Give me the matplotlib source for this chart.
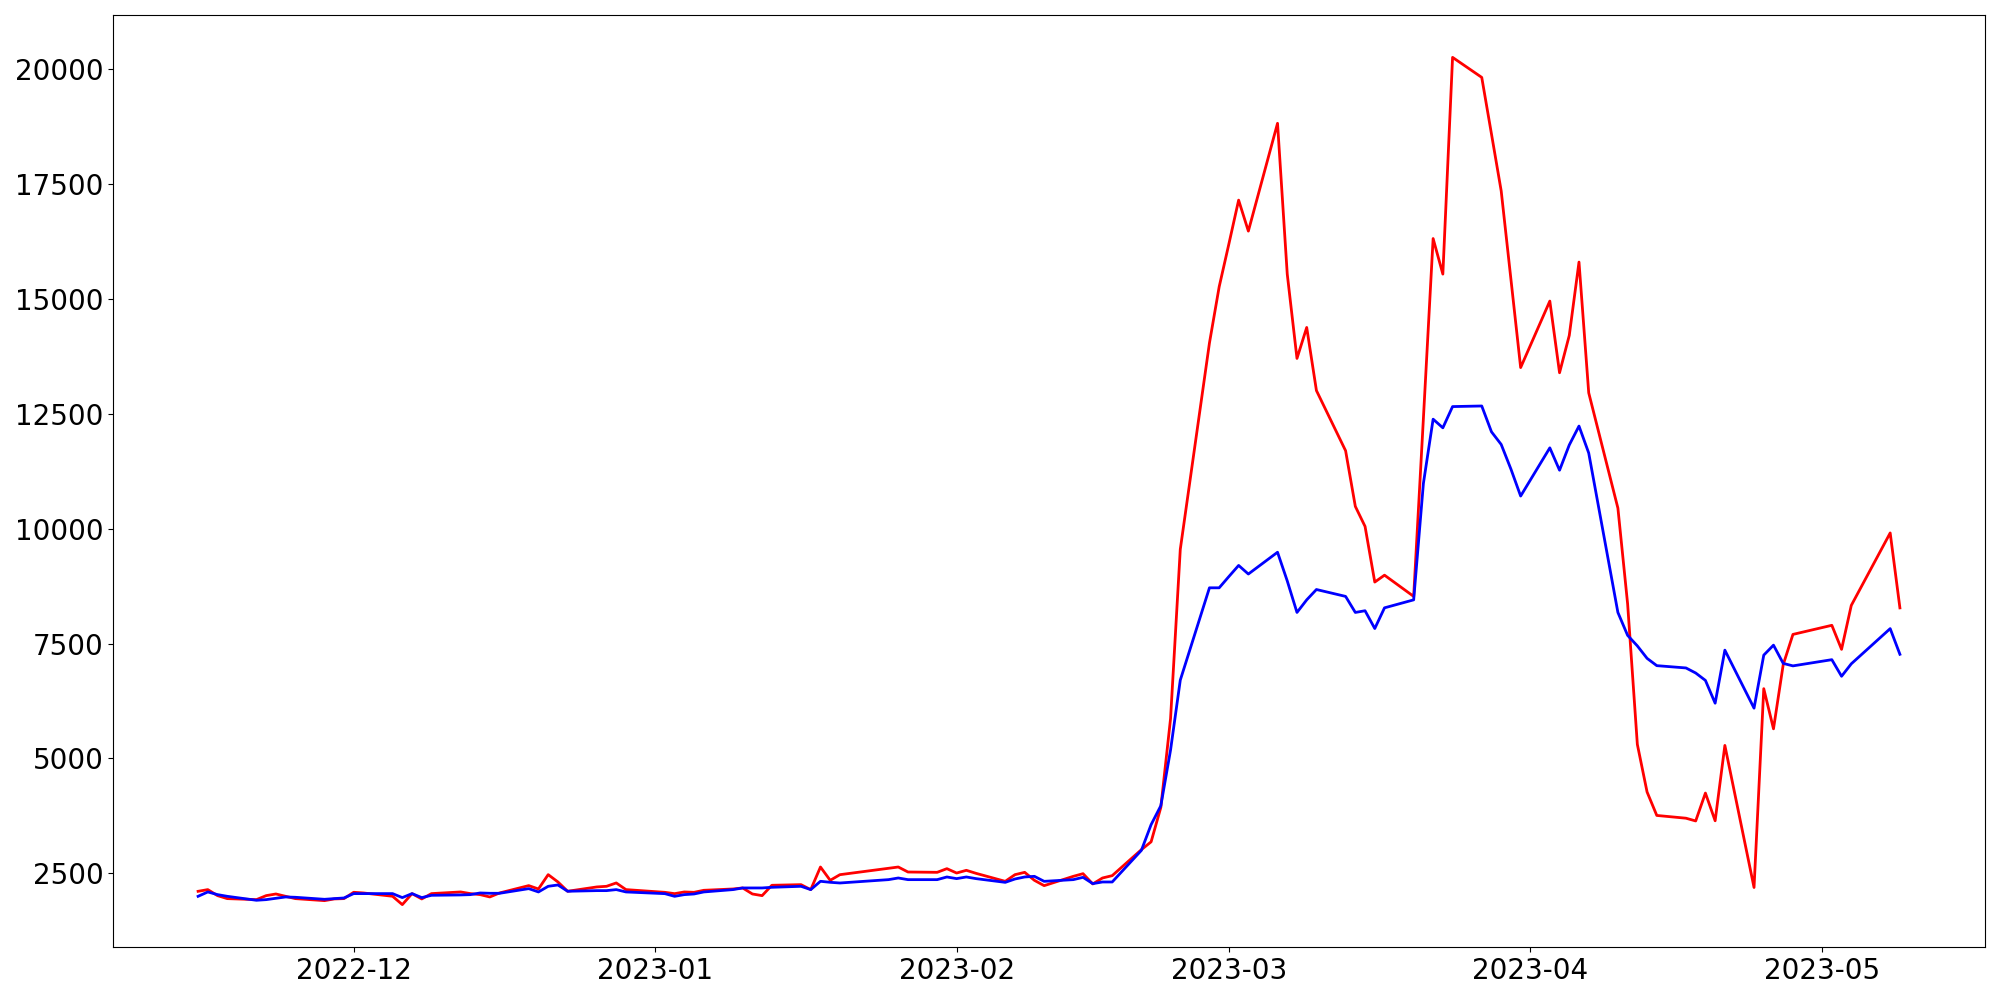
import matplotlib
matplotlib.use("Agg")
import matplotlib.pyplot as plt
import matplotlib.dates as mdates
import pandas as pd

# Trading days (weekdays, with a few closed days removed)
start_date = "2022-11-15"
end_date = "2023-05-09"
closed_days = ["2022-12-30", "2023-01-23", "2023-01-24", "2023-05-01", "2023-05-05"]

red_values = [
    # Nov
    2109, 2146, 2015, 1950, 1928, 2015, 2051, 2000, 1950, 1906, 1943, 1950,
    # Dec
    2088, 2073, 2001, 1819, 2059, 1943, 2059, 2095, 2059, 2037, 1986, 2073,
    2233, 2160, 2472, 2313, 2110, 2204, 2218, 2291, 2146,
    # Jan
    2087, 2058, 2095, 2087, 2131, 2160, 2182, 2051, 2015, 2240, 2254, 2146,
    2638, 2348, 2471, 2610, 2638, 2529, 2522, 2602,
    # Feb
    2507, 2566, 2500, 2326, 2471, 2522, 2348, 2232, 2435, 2493, 2269, 2399,
    2450, 3015, 3186, 3935, 5869, 9551, 14043, 15266,
    # Mar
    16200, 17151, 16477, 18823, 15541, 13706, 14380, 13007, 11697, 10486,
    10050, 8839, 8989, 8527, 12400, 16315, 15541, 20258, 19822, 18590,
    17351, 15430, 13507,
    # Apr
    14954, 13394, 14206, 15803, 12958, 10449, 8365, 5307, 4271, 3760,
    3700, 3640, 4247, 3644, 5284, 2192, 6519, 5645, 7042, 7700,
    # May
    7898, 7375, 8331, 9908, 8277,
]

blue_values = [
    # Nov
    2000, 2095, 2037, 2000, 1914, 1928, 1957, 1986, 1979, 1935, 1950, 1964,
    # Dec
    2059, 2059, 2059, 1972, 2059, 1972, 2022, 2030, 2037, 2073, 2066, 2066,
    2167, 2095, 2218, 2247, 2110, 2124, 2124, 2146, 2095,
    # Jan
    2058, 2000, 2037, 2051, 2095, 2146, 2182, 2182, 2182, 2196, 2218, 2146,
    2327, 2305, 2290, 2363, 2399, 2363, 2363, 2421,
    # Feb
    2385, 2421, 2385, 2304, 2377, 2421, 2435, 2326, 2363, 2413, 2276, 2312,
    2312, 3000, 3560, 3972, 5184, 6705, 8714, 8714,
    # Mar
    8960, 9201, 9014, 9488, 8864, 8178, 8452, 8677, 8527, 8178,
    8215, 7828, 8278, 8452, 10986, 12384, 12196, 12658, 12671, 12109,
    11834, 11298, 10711,
    # Apr
    11760, 11273, 11822, 12234, 11647, 8178, 7679, 7450, 7179, 7020,
    6970, 6860, 6699, 6203, 7357, 6095, 7249, 7466, 7069, 7015,
    # May
    7150, 6789, 7060, 7826, 7267,
]

dates = pd.bdate_range(start_date, end_date)
dates = dates[~dates.isin(pd.to_datetime(closed_days))]
assert len(dates) == len(red_values) == len(blue_values), (len(dates), len(red_values), len(blue_values))

fig = plt.figure(figsize=(20, 10), dpi=100)
ax = fig.add_axes([0.0565, 0.053, 0.936, 0.932])

ax.plot(dates, red_values, color="red", linewidth=2)
ax.plot(dates, blue_values, color="blue", linewidth=2)

ax.xaxis.set_major_locator(mdates.MonthLocator())
ax.xaxis.set_major_formatter(mdates.DateFormatter("%Y-%m"))
ax.tick_params(axis="both", labelsize=20)

fig.savefig("out.png", dpi=100)
